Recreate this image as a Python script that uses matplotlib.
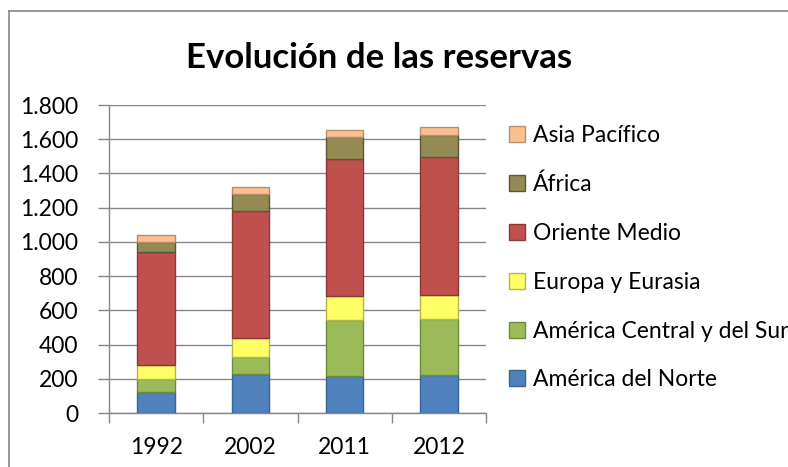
import matplotlib
matplotlib.use("Agg")
import matplotlib.pyplot as plt
from matplotlib.patches import Patch
from matplotlib.lines import Line2D
from matplotlib.ticker import FuncFormatter, FixedLocator

plt.rcParams['font.family'] = ['Lato', 'DejaVu Sans']

# Reservas por region (miles de millones de barriles)
years = ['1992', '2002', '2011', '2012']
america_norte = [122.1, 228.5, 217.5, 220.2]
america_central_sur = [78.8, 98.8, 325.4, 328.4]
europa_eurasia = [78.3, 109.3, 140.8, 140.8]
oriente_medio = [661.6, 741.3, 797.9, 807.7]
africa = [61.2, 101.6, 130.3, 130.3]
asia_pacifico = [37.8, 41.0, 41.5, 41.5]

series = [
    ('América del Norte', america_norte, '#4F81BD', '#3A6496'),
    ('América Central y del Sur', america_central_sur, '#9BBB59', '#6F8A3C'),
    ('Europa y Eurasia', europa_eurasia, '#FFFF66', '#B5B54A'),
    ('Oriente Medio', oriente_medio, '#C0504D', '#8C3836'),
    ('África', africa, '#948A54', '#5E5733'),
    ('Asia Pacífico', asia_pacifico, '#FAC090', '#B98E6A'),
]

fig = plt.figure(figsize=(7.88, 4.67), dpi=100)
ax = fig.add_axes([109 / 788, 1 - 413 / 467, 377 / 788, 308 / 467])

x = range(len(years))
bottom = [0] * len(years)
handles = []
for name, vals, color, edge in series:
    ax.bar(x, vals, width=0.4, bottom=bottom, color=color, edgecolor=edge,
           linewidth=1.0, zorder=3)
    bottom = [b + v for b, v in zip(bottom, vals)]
    handles.append(Patch(facecolor=color, edgecolor=edge, linewidth=1.0, label=name))

grid_c = '#868686'
ax.set_xlim(-0.5, 3.5)
ax.set_ylim(0, 1800)
ax.set_yticks(range(0, 1801, 200))
ax.yaxis.set_major_formatter(FuncFormatter(lambda v, p: f'{int(v):,}'.replace(',', '.')))
ax.grid(axis='y', color=grid_c, linewidth=1.0, zorder=0)
ax.set_xticks(list(x))
ax.set_xticklabels(years)
ax.xaxis.set_minor_locator(FixedLocator([-0.5, 0.5, 1.5, 2.5, 3.5]))
ax.tick_params(axis='x', which='major', length=0, pad=17, labelsize=16.5)
ax.tick_params(axis='x', which='minor', length=7, color=grid_c, width=1.0)
ax.tick_params(axis='y', length=8, color=grid_c, width=1.0, pad=14, labelsize=16.5)
for s in ['top', 'right']:
    ax.spines[s].set_visible(False)
for s in ['left', 'bottom']:
    ax.spines[s].set_color(grid_c)
    ax.spines[s].set_linewidth(1.0)

fig.text(379 / 788, 1 - 58 / 467, 'Evolución de las reservas', ha='center', va='center',
         fontsize=25, fontweight='bold')

fig.legend(handles=handles[::-1], loc='upper left', bbox_to_anchor=(500 / 788, 1 - 116 / 467),
           frameon=False, fontsize=16.5, handlelength=0.7, handleheight=0.7,
           handletextpad=0.35, labelspacing=1.21, borderaxespad=0)

# marco del grafico
fig.add_artist(Line2D([9 / 788, 9 / 788], [0, 1 - 11 / 467], color=grid_c, linewidth=1.2))
fig.add_artist(Line2D([9 / 788, 1], [1 - 11 / 467, 1 - 11 / 467], color=grid_c, linewidth=1.2))

fig.savefig('out.png', dpi=100)
